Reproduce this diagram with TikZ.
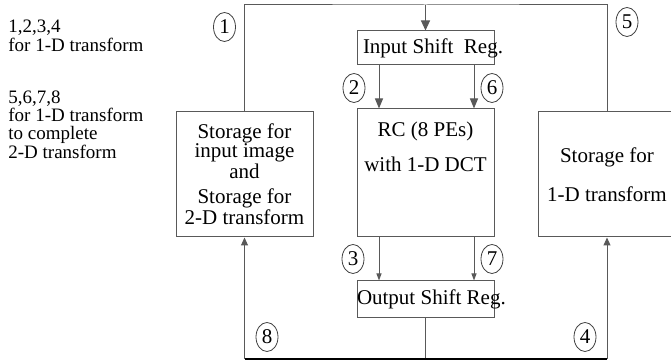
\documentclass[tikz,border=0pt]{standalone}
\usepackage{fontspec}
\setmainfont{Liberation Serif}
\usetikzlibrary{positioning,arrows.meta,shapes.geometric}

\begin{document}
\begin{tikzpicture}[x=0.5pt,y=-0.5pt,
  box/.style={draw=black!65, line width=0.5pt, minimum width=68.5pt,
              align=center, inner sep=0pt, font=\fontsize{10.5}{9.5}\selectfont},
  num/.style={draw=black!75, ellipse, line width=0.4pt, minimum width=11pt,
              minimum height=14.5pt, inner sep=0pt, font=\fontsize{10.5}{12}\selectfont},
  key/.style={anchor=north west, inner sep=0pt, align=left,
              font=\fontsize{9.5}{9.2}\selectfont},
  wire/.style={draw=black!65, line width=0.5pt},
  ]
  \useasboundingbox (0,0) rectangle (671,362);

  % key on the left
  \node[key] (key1) at (8,20) {1,2,3,4\\for 1-D transform};
  \node[key] (key2) at (8,90) {5,6,7,8\\for 1-D transform\\to complete\\2-D transform};

  % blocks
  \node[box, minimum height=64pt] (rc) at (425.5,173) {};
  \node[inner sep=0pt, align=center, font=\fontsize{10.5}{9.5}\selectfont,
        below=6.5pt of rc.north] (rctext) {RC (8 PEs)\\[7pt]with 1-D DCT};
  \node[box, minimum height=17pt, inner xsep=3pt, above=21.5pt of rc]
        (isr) {\makebox[62.5pt][l]{Input Shift\ \ Reg.}};
  \node[box, minimum height=18.5pt, below=21.5pt of rc]
        (osr) {\makebox[68.5pt][l]{Output Shift Reg.}};
  \node[box, minimum height=62.5pt, left=21.5pt of rc.south west, anchor=south east]
        (store) {Storage for\\input image\\and\\[3pt]Storage for\\2-D transform};
  \node[box, minimum width=69pt, minimum height=62.5pt,
        right=21.5pt of rc.south east, anchor=south west]
        (onedim) {Storage for\\[9pt]1-D transform};

  % circled step numbers
  \node[num] (n1) at (224.5,27) {1};
  \node[num] (n2) at (354,88) {2};
  \node[num] (n3) at (353,259) {3};
  \node[num] (n4) at (585,337) {4};
  \node[num] (n5) at (627,22) {5};
  \node[num] (n6) at (492,88) {6};
  \node[num] (n7) at (492,259) {7};
  \node[num] (n8) at (267,337) {8};

  % loop over the top
  \coordinate (top) at (425.5,5);
  \draw[wire] (store.north) |- (top) -| (onedim.north);
  \draw[wire, -{Triangle[length=5pt,width=4.5pt]}] (top) -- (isr.north);

  \draw[wire, -{Triangle[length=5pt,width=4pt]}]
    ([xshift=-23.25pt]isr.south) -- ([xshift=-23.25pt]rc.north);
  \draw[wire, -{Triangle[length=5pt,width=4pt]}]
    ([xshift=24.25pt]isr.south) -- ([xshift=24.25pt]rc.north);
  \draw[wire, -{Triangle[length=3.5pt,width=2.5pt]}]
    ([xshift=-23.25pt]rc.south) -- ([xshift=-23.25pt]osr.north);
  \draw[wire, -{Triangle[length=3.5pt,width=2.5pt]}]
    ([xshift=24.25pt]rc.south) -- ([xshift=24.25pt]osr.north);

  % loop under the bottom
  \coordinate (bot) at (425.5,359);
  \draw[wire] (osr.south) -- (bot);
  \draw[line width=1pt] (store.south |- bot) -- (onedim.south |- bot);
  \draw[wire, -{Triangle[length=4pt,width=3.5pt]}] (store.south |- bot) -- (store.south);
  \draw[wire, -{Triangle[length=4pt,width=3.5pt]}] (onedim.south |- bot) -- (onedim.south);
\end{tikzpicture}
\end{document}
